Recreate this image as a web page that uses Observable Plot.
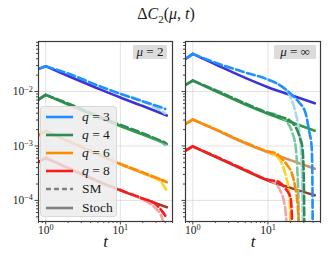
<!DOCTYPE html>
<html><head><meta charset="utf-8">
<script src="https://cdn.jsdelivr.net/npm/d3@7"></script>
<script src="https://cdn.jsdelivr.net/npm/@observablehq/plot@0.6"></script>
<style>
body{margin:0;background:#fff;}
#wrap{position:relative;width:332px;height:266px;overflow:hidden;font-family:"Liberation Serif",serif;color:#1a1a1a;}
.abs{position:absolute;}
#title{left:0;width:332px;top:4px;text-align:center;font-size:16px;line-height:19px;}
.mubox{background:#dcdcdc;font-size:13px;line-height:14px;height:14px;text-align:center;border-radius:1px;}
#legend{left:40px;top:106px;width:77px;height:111px;background:rgba(236,236,236,0.85);border:1px solid rgba(215,215,215,0.9);border-radius:4px;box-sizing:border-box;}
.lrow{position:absolute;left:0;height:18px;width:77px;}
.lrow svg{position:absolute;left:4px;top:0;}
.lrow span{position:absolute;left:41px;top:1px;font-size:13.5px;line-height:16px;white-space:nowrap;}
</style></head><body><div id="wrap"></div>
<script>
// ---------- data ----------
const qs = ["q = 3", "q = 4", "q = 6", "q = 8"];
const colSM = ["#1e90ff", "#2e8b57", "#ff8c00", "#ff1a1a"];
const colPale = ["#a9d6ea", "#79c7a0", "#ffd21f", "#f4a2a2"];
const colStoch = ["#3d32d6", "#2f9a3c", "#d99058", "#a33a30"];

const xTicks = [1, 10];
const yTicks = [1e-4, 1e-3, 1e-2];
const xMinor = [0.8, 0.9, 2, 3, 4, 5, 6, 7, 8, 9, 20, 30, 40, 50];
const yMinor = [5e-5, 6e-5, 7e-5, 8e-5, 9e-5, 2e-4, 3e-4, 4e-4, 5e-4, 6e-4, 7e-4, 8e-4, 9e-4,
  2e-3, 3e-3, 4e-3, 5e-3, 6e-3, 7e-3, 8e-3, 9e-3, 2e-2, 3e-2, 4e-2, 5e-2, 6e-2, 7e-2, 8e-2];

// stochastic (solid) curves, same time grid
const tStoch = [0.8, 1, 2, 5, 10, 20, 42];
const mu2_stoch_q3 = [2.61e-2, 2.91e-2, 1.93e-2, 1.14e-2, 7.76e-3, 5.42e-3, 3.63e-3];
const mu2_stoch_q4 = [7.13e-3, 8.69e-3, 5.77e-3, 3.39e-3, 2.32e-3, 1.62e-3, 1.09e-3];
const mu2_stoch_q6 = [1.56e-3, 1.88e-3, 1.22e-3, 7.00e-4, 4.62e-4, 3.20e-4, 2.16e-4];
const mu2_stoch_q8 = [5.05e-4, 6.03e-4, 3.89e-4, 2.24e-4, 1.53e-4, 1.07e-4, 7.50e-5];
const muInf_stoch_q3 = [3.98e-2, 4.92e-2, 3.16e-2, 1.78e-2, 1.20e-2, 8.61e-3, 6.10e-3];
const muInf_stoch_q4 = [1.32e-2, 1.59e-2, 1.02e-2, 5.75e-3, 3.89e-3, 2.75e-3, 1.91e-3];
const muInf_stoch_q6 = [2.55e-3, 3.06e-3, 2.00e-3, 1.12e-3, 7.69e-4, 5.50e-4, 3.82e-4];
const muInf_stoch_q8 = [8.26e-4, 9.79e-4, 6.31e-4, 3.55e-4, 2.33e-4, 1.70e-4, 1.24e-4];

// SM (dashed) curves, mu = 2
const mu2_sm_q3_t = [0.8, 1, 2, 5, 10, 20, 35, 40];
const mu2_sm_q3 = [2.61e-2, 2.91e-2, 2.14e-2, 1.29e-2, 9.08e-3, 6.61e-3, 5.13e-3, 4.79e-3];
const mu2_smB_q3_t = [10, 20, 30, 40];
const mu2_smB_q3 = [9.08e-3, 6.61e-3, 5.01e-3, 3.98e-3];
const mu2_sm_q4_t = [0.8, 1, 2, 5, 10, 20, 40];
const mu2_sm_q4 = [7.13e-3, 8.69e-3, 6.03e-3, 3.55e-3, 2.43e-3, 1.70e-3, 1.15e-3];
const mu2_smB_q4_t = [10, 20, 30, 40];
const mu2_smB_q4 = [2.43e-3, 1.70e-3, 1.32e-3, 1.05e-3];
const mu2_sm_q6_t = [0.8, 1, 2, 5, 10, 20, 40];
const mu2_sm_q6 = [1.56e-3, 1.88e-3, 1.24e-3, 7.10e-4, 4.70e-4, 3.25e-4, 2.26e-4];
const mu2_smB_q6_t = [10, 20, 30, 35, 41];
const mu2_smB_q6 = [4.68e-4, 3.24e-4, 2.51e-4, 2.19e-4, 1.58e-4];
const mu2_sm_q8_t = [0.8, 1, 2, 5, 10, 20, 30, 37, 41];
const mu2_sm_q8 = [5.05e-4, 6.03e-4, 3.95e-4, 2.28e-4, 1.55e-4, 1.08e-4, 8.51e-5, 6.10e-5, 5.0e-5];
const mu2_smB_q8_t = [15, 20, 25, 30, 35, 39];
const mu2_smB_q8 = [1.26e-4, 1.05e-4, 8.71e-5, 7.08e-5, 5.37e-5, 3.55e-5];

// SM (dashed) curves, mu = infinity
const muInf_sm_q3_t = [0.8, 1, 2, 5, 10, 15, 21.2, 26, 31.7, 35.2, 38.2, 39, 39.5];
const muInf_sm_q3 = [3.98e-2, 4.92e-2, 3.39e-2, 2.24e-2, 1.66e-2, 1.26e-2, 8.45e-3, 6.31e-3, 3.98e-3, 1.92e-3, 9.33e-4, 2.51e-4, 1e-5];
const muInf_smB_q3_t = [10, 15, 19, 23.4, 25.5, 27.4, 28.5, 29.3];
const muInf_smB_q3 = [1.66e-2, 1.26e-2, 9.12e-3, 3.98e-3, 2.24e-3, 9.33e-4, 2.51e-4, 1e-5];
const muInf_sm_q4_t = [0.8, 1, 2, 5, 10, 15, 19, 22, 24.6, 26.8, 28.7, 30, 30.6];
const muInf_sm_q4 = [1.32e-2, 1.59e-2, 1.06e-2, 6.03e-3, 4.07e-3, 3.39e-3, 3.02e-3, 2.51e-3, 1.92e-3, 1.38e-3, 9.33e-4, 2.51e-4, 1e-5];
const muInf_smB_q4_t = [10, 15, 18, 21, 23.4, 24.5, 25.5, 26];
const muInf_smB_q4 = [4.07e-3, 3.39e-3, 2.74e-3, 1.78e-3, 9.55e-4, 3.98e-4, 7.94e-5, 1e-5];
const muInf_sm_q6_t = [0.8, 1, 2, 5, 10, 13, 15.4, 18, 20.9, 23, 24.5, 25.5, 26];
const muInf_sm_q6 = [2.55e-3, 3.06e-3, 2.04e-3, 1.15e-3, 7.94e-4, 7.24e-4, 5.82e-4, 4.47e-4, 3.09e-4, 1.78e-4, 1.0e-4, 3.98e-5, 1e-5];
const muInf_smB_q6_t = [10, 12, 15.4, 17.5, 19, 19.8, 20.2];
const muInf_smB_q6 = [7.94e-4, 7.08e-4, 4.68e-4, 2.63e-4, 1.51e-4, 5.01e-5, 1e-5];
const muInf_sm_q8_t = [0.8, 1, 2, 5, 10, 14, 17, 19.9, 20.7, 21.2];
const muInf_sm_q8 = [8.26e-4, 9.79e-4, 6.46e-4, 3.63e-4, 2.40e-4, 2.19e-4, 1.66e-4, 1.15e-4, 6.31e-5, 1e-5];
const muInf_smB_q8_t = [10, 12, 14.6, 16.5, 17.5, 18];
const muInf_smB_q8 = [2.40e-4, 2.14e-4, 1.51e-4, 8.91e-5, 4.47e-5, 1e-5];

// ---------- build tables ----------
function rows(ts, vs, k) { return ts.map((t, i) => ({t, v: vs[i], k})); }
const panels = {
  mu2: {
    stoch: [mu2_stoch_q3, mu2_stoch_q4, mu2_stoch_q6, mu2_stoch_q8].map((v, k) => rows(tStoch, v, k)),
    sm: [[mu2_sm_q3_t, mu2_sm_q3], [mu2_sm_q4_t, mu2_sm_q4], [mu2_sm_q6_t, mu2_sm_q6], [mu2_sm_q8_t, mu2_sm_q8]].map(([t, v], k) => rows(t, v, k)),
    smB: [[mu2_smB_q3_t, mu2_smB_q3], [mu2_smB_q4_t, mu2_smB_q4], [mu2_smB_q6_t, mu2_smB_q6], [mu2_smB_q8_t, mu2_smB_q8]].map(([t, v], k) => rows(t, v, k))
  },
  muInf: {
    stoch: [muInf_stoch_q3, muInf_stoch_q4, muInf_stoch_q6, muInf_stoch_q8].map((v, k) => rows(tStoch, v, k)),
    sm: [[muInf_sm_q3_t, muInf_sm_q3], [muInf_sm_q4_t, muInf_sm_q4], [muInf_sm_q6_t, muInf_sm_q6], [muInf_sm_q8_t, muInf_sm_q8]].map(([t, v], k) => rows(t, v, k)),
    smB: [[muInf_smB_q3_t, muInf_smB_q3], [muInf_smB_q4_t, muInf_smB_q4], [muInf_smB_q6_t, muInf_smB_q6], [muInf_smB_q8_t, muInf_smB_q8]].map(([t, v], k) => rows(t, v, k))
  }
};

const sup = (e) => "10^" + (e < 0 ? "\u2212" + (-e) : String(e));
const FONT = "Liberation Serif";

// a line with a sharp corner at the peak (t = 1): rising part straight, decay part smooth
function curveLines(data, opts) {
  const rise = data.filter(d => d.t <= 1);
  const decay = data.filter(d => d.t >= 1);
  const out = [];
  if (rise.length > 1) out.push(Plot.line(rise, {x: "t", y: "v", curve: "linear", clip: true, ...opts}));
  out.push(Plot.line(decay, {x: "t", y: "v", curve: "monotone-x", clip: true, ...opts}));
  return out;
}

function makePanel(p, showY, W, mL, mR) {
  const marks = [
    Plot.gridX(xTicks, {stroke: "#d6d6d6", strokeOpacity: 1, strokeWidth: 0.7}),
    Plot.gridY(yTicks, {stroke: "#d6d6d6", strokeOpacity: 1, strokeWidth: 0.7})
  ];
  for (let k = 0; k < 4; k++) {
    marks.push(...curveLines(p.stoch[k], {stroke: colStoch[k], strokeWidth: 2.6}));
  }
  for (let k = 0; k < 4; k++) {
    marks.push(...curveLines(p.smB[k], {stroke: colPale[k], strokeWidth: 2.6, strokeDasharray: "8,3.5"}));
    marks.push(...curveLines(p.sm[k], {stroke: colSM[k], strokeWidth: 2.6, strokeDasharray: "8,3.5"}));
  }
  marks.push(
    Plot.frame({stroke: "#3a3a3a", strokeWidth: 1.2}),
    Plot.axisX({ticks: xMinor, tickFormat: () => "", tickSize: 2, label: null, stroke: "#444"}),
    Plot.axisX({ticks: xTicks, tickFormat: d => sup(Math.round(Math.log10(d))), tickSize: 3.5, tickPadding: 1, label: null, fontSize: 11.5, stroke: "#444"}),
    Plot.axisY({ticks: yMinor, tickFormat: () => "", tickSize: 2, label: null, stroke: "#444"}),
    Plot.axisY({ticks: yTicks, tickFormat: showY ? (d => sup(Math.round(Math.log10(d)))) : (() => ""), tickSize: 3.5, tickPadding: 2, label: null, fontSize: 11.5, stroke: "#444"}),
    Plot.text(["t"], {text: d => d, frameAnchor: "bottom", dy: 25, fontSize: 17, fontStyle: "italic", fill: "#1a1a1a"})
  );
  return Plot.plot({
    width: W, height: 266, marginTop: 41, marginBottom: 45, marginLeft: mL, marginRight: mR,
    style: {fontFamily: FONT, background: "transparent", color: "#1a1a1a"},
    x: {type: "log", domain: [0.8, 50], label: null},
    y: {type: "log", domain: [4.1e-5, 0.083], label: null},
    marks
  });
}

function supify(svg) {
  const NS = "http://www.w3.org/2000/svg";
  svg.querySelectorAll("text").forEach(el => {
    const s = el.textContent;
    const m = s.match(/^10\^(.+)$/);
    if (!m) return;
    while (el.firstChild) el.removeChild(el.firstChild);
    el.appendChild(document.createTextNode("10"));
    const ts = document.createElementNS(NS, "tspan");
    ts.setAttribute("dy", "-0.45em");
    ts.setAttribute("font-size", "0.72em");
    ts.textContent = m[1];
    el.appendChild(ts);
  });
}

const wrap = document.getElementById("wrap");
const left = makePanel(panels.mu2, true, 175, 38, 3);
const right = makePanel(panels.muInf, false, 157, 10, 12);
supify(left); supify(right);
left.style.position = "absolute"; left.style.left = "0px"; left.style.top = "0px";
right.style.position = "absolute"; right.style.left = "175px"; right.style.top = "0px";
wrap.appendChild(left); wrap.appendChild(right);

// title
const title = document.createElement("div");
title.className = "abs"; title.id = "title";
title.innerHTML = "\u0394<i>C</i><sub style='font-size:11px'>2</sub>(<i>\u03bc</i>, <i>t</i>)";
wrap.appendChild(title);

// panel labels
function muBox(html, l, w) {
  const d = document.createElement("div");
  d.className = "abs mubox";
  d.style.left = l + "px"; d.style.top = "45px"; d.style.width = w + "px";
  d.innerHTML = html;
  wrap.appendChild(d);
}
muBox("<i>\u03bc</i> = 2", 133, 34);
muBox("<i>\u03bc</i> = \u221e", 274, 42);

// legend
const legend = document.createElement("div");
legend.className = "abs"; legend.id = "legend";
const legItems = qs.map((q, k) => ({html: "<i>q</i> = " + q.split("= ")[1], color: colSM[k], dash: null}))
  .concat([{html: "SM", color: "#808080", dash: "5,3"}, {html: "Stoch", color: "#808080", dash: null}]);
legItems.forEach((it, i) => {
  const r = document.createElement("div");
  r.className = "lrow";
  r.style.top = (1 + i * 18.1) + "px";
  r.innerHTML = `<svg width="30" height="18"><line x1="1" x2="28" y1="9" y2="9" stroke="${it.color}" stroke-width="2.6" ${it.dash ? `stroke-dasharray="${it.dash}"` : ""}/></svg><span>${it.html}</span>`;
  legend.appendChild(r);
});
wrap.appendChild(legend);
</script></body></html>
